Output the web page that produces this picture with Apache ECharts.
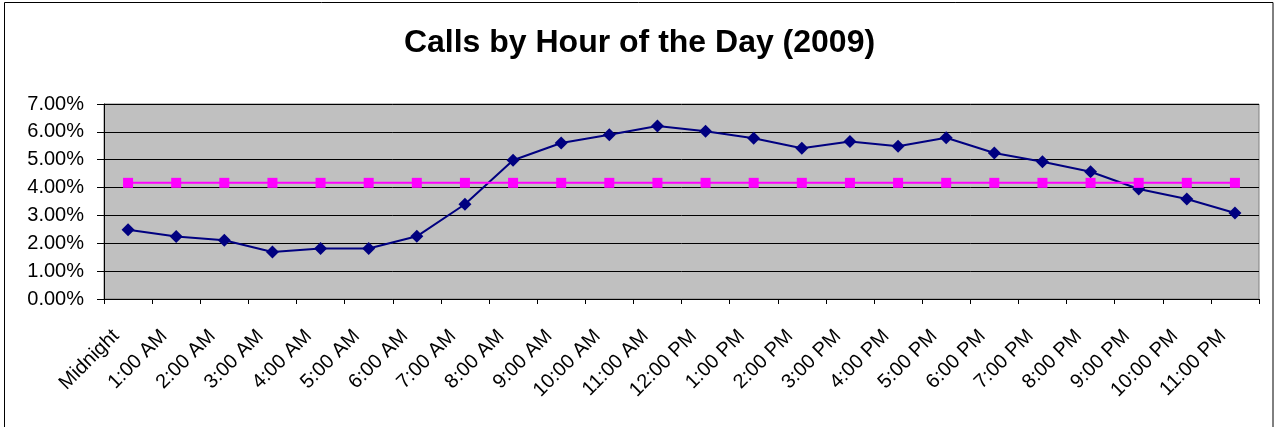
<!DOCTYPE html>
<html>
<head>
<meta charset="utf-8">
<title>Calls by Hour of the Day (2009)</title>
<script src="https://cdn.jsdelivr.net/npm/echarts@6/dist/echarts.min.js"></script>
<style>
  html, body { margin: 0; padding: 0; background: #fff; }
  #chart { width: 1279px; height: 427px; }
</style>
</head>
<body>
<div id="chart"></div>
<script>
// ---- data (percent of calls per hour) ----
const hours = ['Midnight', '1:00 AM', '2:00 AM', '3:00 AM', '4:00 AM', '5:00 AM', '6:00 AM', '7:00 AM',
  '8:00 AM', '9:00 AM', '10:00 AM', '11:00 AM', '12:00 PM', '1:00 PM', '2:00 PM', '3:00 PM',
  '4:00 PM', '5:00 PM', '6:00 PM', '7:00 PM', '8:00 PM', '9:00 PM', '10:00 PM', '11:00 PM'];
const callShare = [2.49, 2.24, 2.11, 1.69, 1.81, 1.81, 2.25, 3.40,
  4.98, 5.60, 5.90, 6.21, 6.02, 5.77, 5.41, 5.65,
  5.48, 5.79, 5.24, 4.93, 4.57, 3.95, 3.59, 3.09];
const evenShare = [4.17, 4.17, 4.17, 4.17, 4.17, 4.17, 4.17, 4.17,
  4.17, 4.17, 4.17, 4.17, 4.17, 4.17, 4.17, 4.17,
  4.17, 4.17, 4.17, 4.17, 4.17, 4.17, 4.17, 4.17];
const yTicks = { min: 0, max: 7, interval: 1 };

const FONT = 'Arial, "Liberation Sans", sans-serif';
const chart = echarts.init(document.getElementById('chart'), null, { renderer: 'canvas' });

chart.setOption({
  animation: false,
  backgroundColor: '#fff',
  textStyle: { fontFamily: FONT, color: '#000' },
  title: {
    text: 'Calls by Hour of the Day (2009)',
    left: 'center',
    top: 22,
    textStyle: { fontFamily: FONT, fontSize: 32, fontWeight: 'bold', color: '#000' }
  },
  // outer chart-area frame (bottom edge runs off the picture)
  graphic: [{
    type: 'rect',
    silent: true,
    shape: { x: 4.5, y: 2.5, width: 1268.5, height: 440 },
    style: { fill: 'none', stroke: '#000', lineWidth: 1 }
  }],
  grid: {
    left: 104, right: 20, top: 104, bottom: 128,
    show: true, backgroundColor: '#C0C0C0', borderColor: '#808080', borderWidth: 1
  },
  xAxis: {
    type: 'category',
    data: hours,
    boundaryGap: true,
    axisLine: { lineStyle: { color: '#000', width: 1 } },
    axisTick: { show: true, length: 5, lineStyle: { color: '#000' } },
    axisLabel: {
      rotate: 45, interval: 0, margin: 22, padding: [0, 17, 0, 0],
      fontFamily: FONT, fontSize: 20, color: '#000'
    },
    splitLine: { show: false }
  },
  yAxis: {
    type: 'value',
    min: yTicks.min, max: yTicks.max, interval: yTicks.interval,
    axisLine: { show: true, lineStyle: { color: '#000', width: 1 } },
    axisTick: { show: true, length: 7, lineStyle: { color: '#000' } },
    axisLabel: {
      margin: 20, fontFamily: FONT, fontSize: 20, color: '#000',
      formatter: v => v.toFixed(2) + '%'
    },
    splitLine: { show: true, lineStyle: { color: '#000', width: 1 } }
  },
  series: [
    {
      name: 'Calls',
      type: 'line',
      data: callShare,
      symbol: 'diamond',
      symbolSize: 13,
      showAllSymbol: true,
      lineStyle: { color: '#000080', width: 2 },
      itemStyle: { color: '#000080' },
      z: 3
    },
    {
      name: 'Even share',
      type: 'line',
      data: evenShare,
      symbol: 'rect',
      symbolSize: 10,
      showAllSymbol: true,
      lineStyle: { color: '#FF00FF', width: 2 },
      itemStyle: { color: '#FF00FF' },
      z: 4
    }
  ]
});
</script>
</body>
</html>
